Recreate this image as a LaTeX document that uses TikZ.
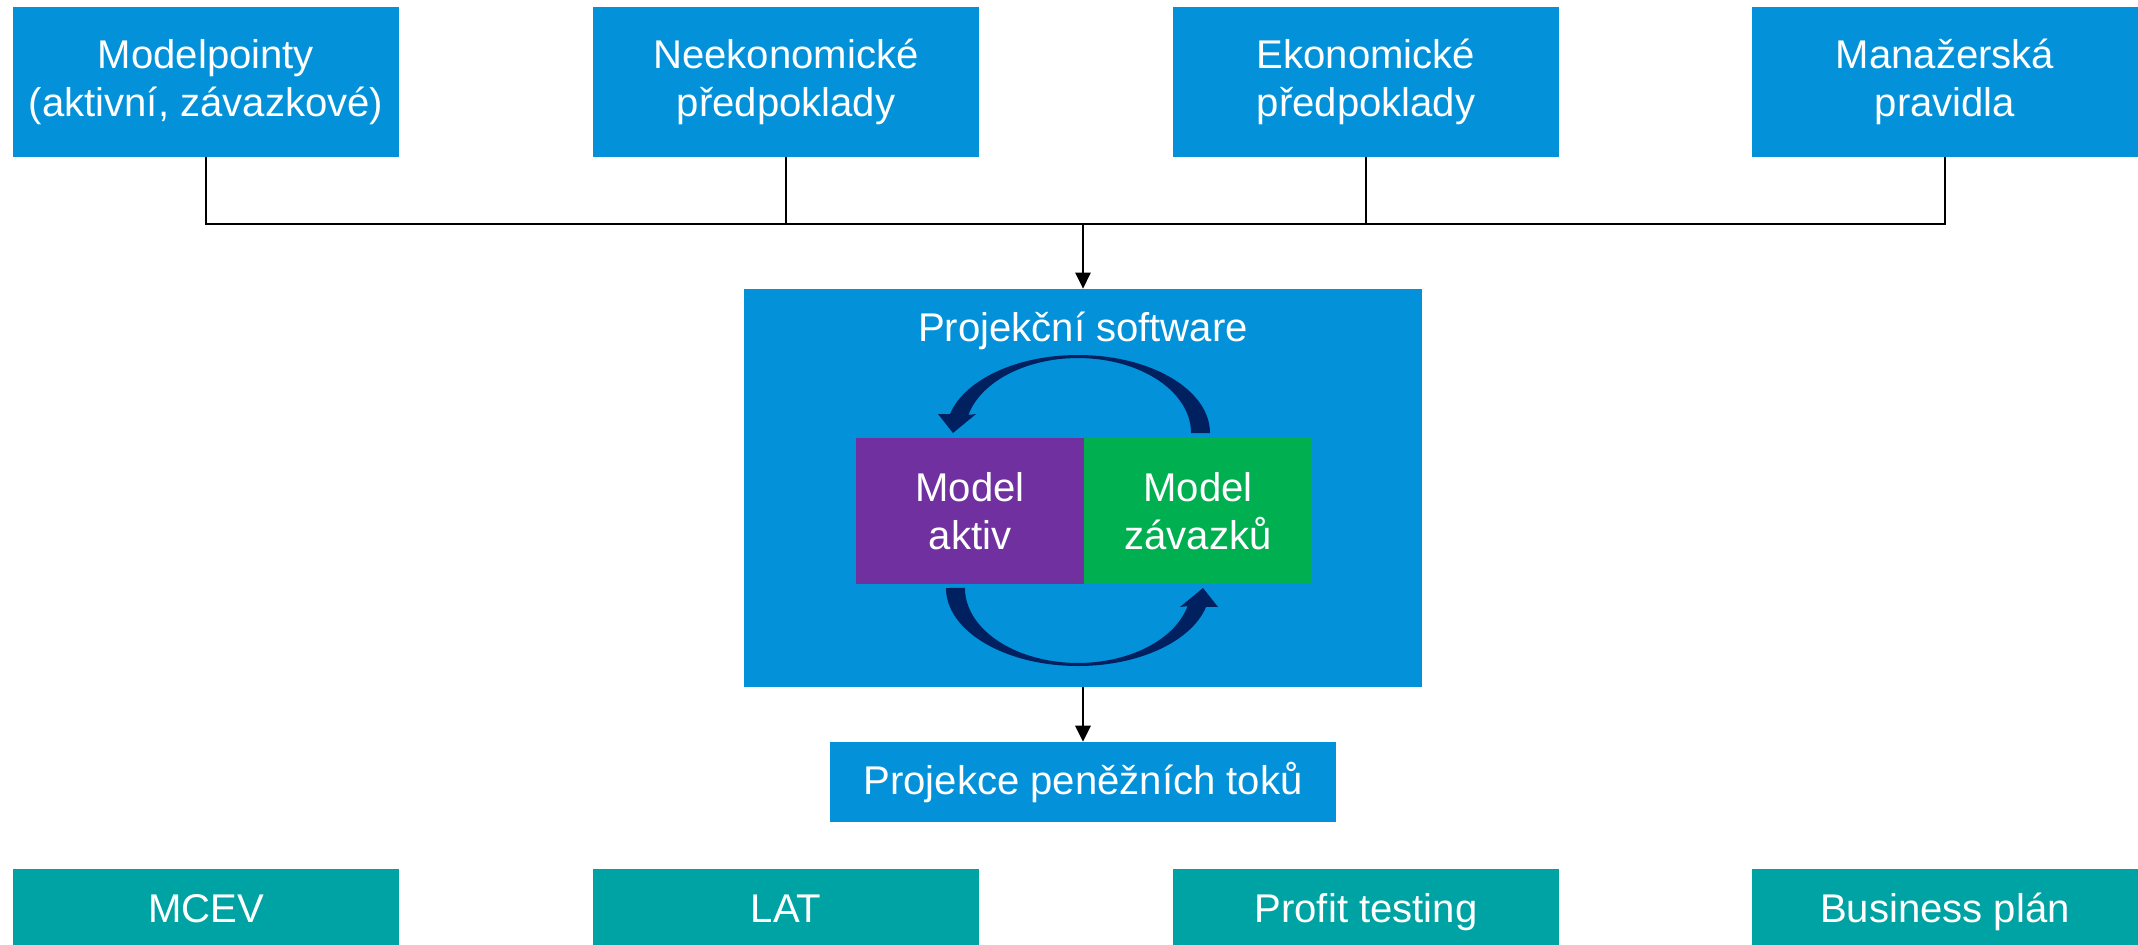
\documentclass[tikz,border=0pt]{standalone}
\usepackage{fontspec}
\setmainfont{Liberation Sans}
\usetikzlibrary{arrows.meta,positioning}
\definecolor{boxblue}{RGB}{3,145,218}
\definecolor{boxteal}{RGB}{0,163,163}
\definecolor{boxpurple}{RGB}{112,48,160}
\definecolor{boxgreen}{RGB}{0,176,80}
\definecolor{navy}{RGB}{0,32,96}

\begin{document}
\begin{tikzpicture}[x=0.01cm,y=-0.01cm,
    txt/.style={text=white,font=\fontsize{11.4}{13.7}\selectfont,align=center,inner sep=0pt},
    inbox/.style={txt,fill=boxblue,minimum width=3.85cm,minimum height=1.49cm},
    outbox/.style={txt,fill=boxteal,minimum width=3.85cm,minimum height=0.76cm,text height=9pt,text depth=0pt},
    modelbox/.style={txt,minimum width=2.28cm,minimum height=1.45cm},
    conn/.style={line width=0.8pt},
    arr/.style={conn,-{Triangle[length=4.6pt,width=4.3pt]}}]
  \useasboundingbox (0,0) rectangle (2138,945);
  % inputs
  \node[inbox] (mp) at (206,82) {Modelpointy\\(aktivní, závazkové)};
  \node[inbox] (np) at (786,82) {Neekonomické\\předpoklady};
  \node[inbox] (ep) at (1366,82) {Ekonomické\\předpoklady};
  \node[inbox] (mr) at (1945,82) {Manažerská\\pravidla};
  % projection software
  \node[fill=boxblue,minimum width=6.77cm,minimum height=3.97cm] (sw) at (1083,488) {};
  \node[txt] (swt) at (1083,331) {Projekční software};
  \node[modelbox,fill=boxpurple] (ma) at (970,511) {Model\\aktiv};
  \node[modelbox,fill=boxgreen] (mz) at (1198,511) {Model\\závazků};
  \fill[navy] (1210,433) arc[start angle=0,end angle=-166,x radius=132,y radius=78]
    -- (938,414) -- (953,433) -- (976,414) -- (968.4,414.9)
    arc[start angle=-166,end angle=0,x radius=113,y radius=75] -- cycle;
  \fill[navy,rotate around={180:(1078,510.5)}] (1210,433) arc[start angle=0,end angle=-166,x radius=132,y radius=78]
    -- (938,414) -- (953,433) -- (976,414) -- (968.4,414.9)
    arc[start angle=-166,end angle=0,x radius=113,y radius=75] -- cycle;
  \node[txt,fill=boxblue,minimum width=5.06cm,minimum height=0.79cm] (cf) at (1083,782) {Projekce peněžních toků};
  % outputs
  \node[outbox] (mc) at (206,907) {MCEV};
  \node[outbox] (lat) at (786,907) {LAT};
  \node[outbox] (pt) at (1366,907) {Profit testing};
  \node[outbox] (bp) at (1945,907) {Business plán};
  % connectors
  \coordinate (hub) at (1083,224);
  \draw[conn] (mp.south) |- (hub) -| (mr.south);
  \draw[conn] (np.south) -- (np.south |- hub);
  \draw[conn] (ep.south) -- (ep.south |- hub);
  \draw[arr] (hub) -- (sw.north);
  \draw[arr] (sw.south) -- (cf.north);
\end{tikzpicture}
\end{document}
